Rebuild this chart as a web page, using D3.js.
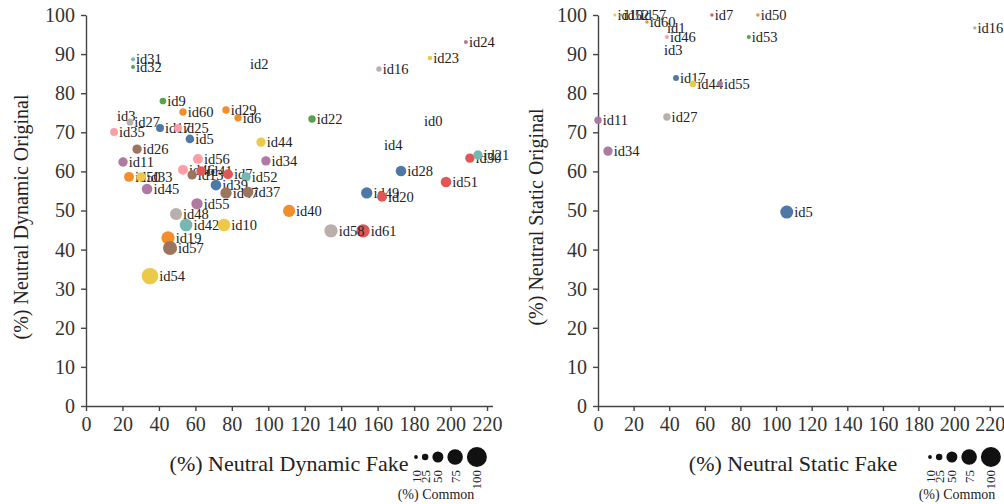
<!DOCTYPE html>
<html>
  <head>
    <meta charset="utf-8" />
    <title>Neutral Dynamic / Static scatter</title>
    <script src="https://d3js.org/d3.v7.min.js"></script>
    <style>
      body { margin: 0; background: #fff; }
      svg text { font-family: "Liberation Serif", "DejaVu Serif", serif; fill: #222; }
      .axis path, .axis line { stroke: #444; stroke-width: 1.4; }
      .axis text { font-size: 20px; fill: #333; }
      .lbl { font-size: 14.5px; }
    </style>
  </head>
  <body>
    <svg width="1004" height="504"></svg>
    <script>
      // Left chart: dynamic
      const dynIds = ["id31","id32","id2","id9","id60","id29","id6","id3","id27","id22","id0","id4","id35","id17","id25","id5","id44","id26","id11","id56","id34","id50","id33","id45","id46","id13","id41","id7","id52","id39","id47","id37","id55","id48","id40","id42","id10","id19","id57","id54","id61","id58","id49","id20","id28","id51","id30","id21","id16","id23","id24"];
      const dynFake = [25.8,25.8,89.4,42.2,53.2,76.8,83.4,16.5,24.1,124,184.9,162.9,15.4,40.6,50.5,57.0,96,28,20.3,61.4,98.7,23.6,30.2,33.5,53.2,58.2,63.1,77.9,87.8,71.3,76.8,88.9,60.9,49.4,111.4,54.9,75.7,45,46.1,35.1,152,134.4,154,162.4,172.8,197.5,210.6,215,160.7,188.7,208.4];
      const dynOrig = [88.7,86.7,87.5,78.0,75.2,75.7,73.7,74.2,72.6,73.4,72.8,66.8,70.1,71.1,71.1,68.3,67.5,65.7,62.4,63.2,62.7,58.6,58.6,55.5,60.4,59.1,60.1,59.3,58.6,56.5,54.5,54.7,51.7,49.1,49.9,46.3,46.3,43.0,40.4,33.2,44.8,44.8,54.5,53.5,60.1,57.3,63.4,64.2,86.2,89.0,93.1];
      const dynCommon = [11,11,0,26,30,30,30,0,26,30,0,0,33,33,33,37,41,41,41,44,41,44,41,48,44,41,41,44,41,48,52,48,52,56,56,59,59,63,67,81,63,63,52,44,48,48,41,41,19,15,11];

      // Right chart: static
      const statIds = ["id11","id34","id5","id27","id17","id44","id55","id46","id1","id3","id60","id10","id52","id57","id7","id50","id53","id16"];
      const statFake = [0,5.6,106,38.7,43.8,53.3,68.5,38.7,38.2,36.5,27.5,9.5,12.9,22.4,64,89.8,84.7,211.6];
      const statOrig = [73.1,65.2,49.6,73.9,83.9,82.4,82.4,94.4,96.7,91.0,98.2,100,100,100,100,100,94.4,96.7];
      const statCommon = [30,41,61,30,22,26,22,11,0,0,8,6,6,6,8,8,11,8];

      // colour order of the ids (Tableau 10 cycles through this list)
      const colorIds = ["id5","id6","id7","id8","id9","id10","id11","id12","id13","id16","id17","id19","id20","id21","id22","id23","id24","id25","id26","id27","id28","id29","id30","id31","id32","id33","id34","id35","id37","id38","id39","id40","id41","id42","id43","id44","id45","id46","id47","id48","id49","id50","id51","id52","id53","id54","id55","id56","id57","id58","id59","id60","id61"];

      const xTicks = [0,20,40,60,80,100,120,140,160,180,200,220];
      const yTicks = [0,10,20,30,40,50,60,70,80,90,100];
      const legendValues = [10,25,50,75,100];

      const svg = d3.select("svg");
      const color = d3.scaleOrdinal(d3.schemeTableau10).domain(colorIds);
      const r = d3.scaleLinear().domain([0, 100]).range([1, 10]);
      const radius = (c) => (c > 0 ? r(c) : 0);

      function drawChart(opt) {
        const x = d3.scaleLinear().domain([0, opt.xMax]).range([opt.left, opt.right]);
        const y = d3.scaleLinear().domain([0, 100]).range([406, 15]);

        svg.append("g")
          .attr("class", "axis")
          .attr("transform", "translate(0,406)")
          .call(d3.axisBottom(x).tickValues(xTicks).tickSize(5).tickPadding(6).tickSizeOuter(0));

        svg.append("g")
          .attr("class", "axis")
          .attr("transform", "translate(" + opt.left + ",0)")
          .call(d3.axisLeft(y).tickValues(yTicks).tickSize(5).tickPadding(6).tickSizeOuter(0));

        const pts = opt.ids.map((id, i) => ({ id: id, x: opt.xs[i], y: opt.ys[i], c: opt.cs[i] }));
        const g = svg.append("g")
          .selectAll("g")
          .data(pts)
          .join("g");
        g.append("circle")
          .attr("cx", (d) => x(d.x))
          .attr("cy", (d) => y(d.y))
          .attr("r", (d) => radius(d.c))
          .attr("fill", (d) => color(d.id));
        g.append("text")
          .attr("class", "lbl")
          .attr("x", (d) => x(d.x) + radius(d.c) + 1)
          .attr("y", (d) => y(d.y))
          .attr("dy", "0.33em")
          .text((d) => d.id);

        // axis titles
        svg.append("text")
          .attr("x", opt.xTitleX)
          .attr("y", 471)
          .attr("text-anchor", "middle")
          .style("font-size", "22px")
          .text(opt.xTitle);
        svg.append("text")
          .attr("transform", "translate(" + opt.yTitleX + ",217) rotate(-90)")
          .attr("text-anchor", "middle")
          .style("font-size", "20px")
          .text(opt.yTitle);

        // size legend
        let lx = opt.legendX;
        const lg = svg.append("g");
        legendValues.forEach((v, i) => {
          if (i > 0) lx += r(legendValues[i - 1]) + r(v) + 4;
          lg.append("circle").attr("cx", lx).attr("cy", 457).attr("r", r(v)).attr("fill", "#111");
          lg.append("text")
            .attr("transform", "translate(" + lx + ",470) rotate(-90)")
            .attr("text-anchor", "end")
            .attr("dy", "0.35em")
            .style("font-size", "13px")
            .text(v);
        });
        lg.append("text")
          .attr("x", opt.commonX)
          .attr("y", 499)
          .attr("text-anchor", "middle")
          .style("font-size", "14px")
          .text("(%) Common");
      }

      drawChart({
        ids: dynIds, xs: dynFake, ys: dynOrig, cs: dynCommon,
        left: 86, right: 492.5, xMax: 223,
        xTitle: "(%) Neutral Dynamic Fake", xTitleX: 289,
        yTitle: "(%) Neutral Dynamic Original", yTitleX: 28,
        legendX: 416, commonX: 436
      });

      drawChart({
        ids: statIds, xs: statFake, ys: statOrig, cs: statCommon,
        left: 598, right: 1004, xMax: 228,
        xTitle: "(%) Neutral Static Fake", xTitleX: 793,
        yTitle: "(%) Neutral Static Original", yTitleX: 543,
        legendX: 930, commonX: 957
      });
    </script>
  </body>
</html>
